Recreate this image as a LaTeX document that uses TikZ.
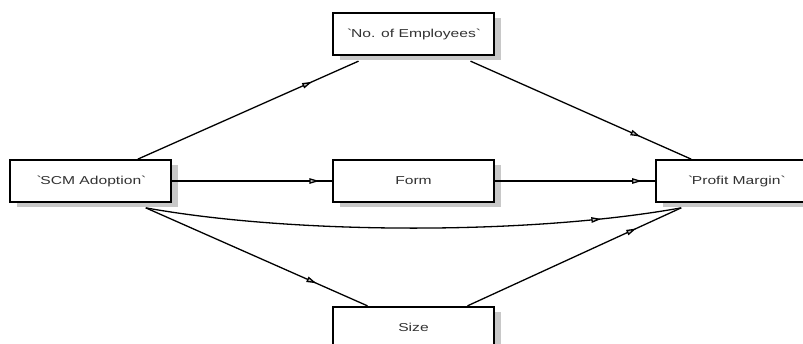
\documentclass[tikz,border=0pt]{standalone}
\usepackage{fontspec}
\setmainfont{Liberation Sans}
\newfontfamily\boxfont[FakeStretch=1.36]{Liberation Sans}
\usetikzlibrary{arrows.meta, positioning, shadows, decorations.markings}
\definecolor{boxtext}{RGB}{50,50,50}
\definecolor{boxshadow}{RGB}{200,200,200}
\tikzset{
  varbox/.style={rectangle, minimum width=161pt, minimum height=42pt, inner sep=0pt, align=center, draw=black, fill=white, line width=1.7pt, text=boxtext, font=\boxfont\fontsize{11.5}{13}\selectfont, drop shadow={shadow xshift=7pt, shadow yshift=-5pt, opacity=1, fill=boxshadow}},
  link/.style={line width=1.3pt, postaction={decorate}, decoration={markings, mark=at position #1 with {\arrow{Triangle[length=10pt, width=5.5pt, fill=boxshadow]}}}},
}

\begin{document}
\begin{tikzpicture}[x=1pt, y=-1pt, node distance=103pt and 160pt]
\useasboundingbox (0,0) rectangle (803,343);
\node (form) [varbox] at (413.5,181) {Form};
\node (emp) [varbox, above=of form] {\textasciigrave No. of Employees\textasciigrave};
\node (size) [varbox, below=of form] {Size};
\node (scm) [varbox, left=of form] {\textasciigrave SCM Adoption\textasciigrave};
\node (profit) [varbox, right=of form] {\textasciigrave Profit Margin\textasciigrave};
\draw[link=0.79] ([xshift=47pt]scm.north) -- ([shift={(-55pt,-5pt)}]emp.south);
\draw[link=0.77] ([shift={(57pt,-5pt)}]emp.south) -- ([xshift=-45pt]profit.north);
\draw[link=0.92] (scm) -- (form);
\draw[link=0.92] (form) -- (profit);
\draw[link=0.77] ([shift={(55pt,-5pt)}]scm.south) -- ([xshift=-46pt]size.north);
\draw[link=0.79] ([xshift=54pt]size.north) -- ([shift={(-55pt,-5pt)}]profit.south);
\draw[link=0.85] ([shift={(55pt,-5pt)}]scm.south) .. controls +(150,27) and +(-150,27) .. ([shift={(-55pt,-5pt)}]profit.south);
\end{tikzpicture}
\end{document}
